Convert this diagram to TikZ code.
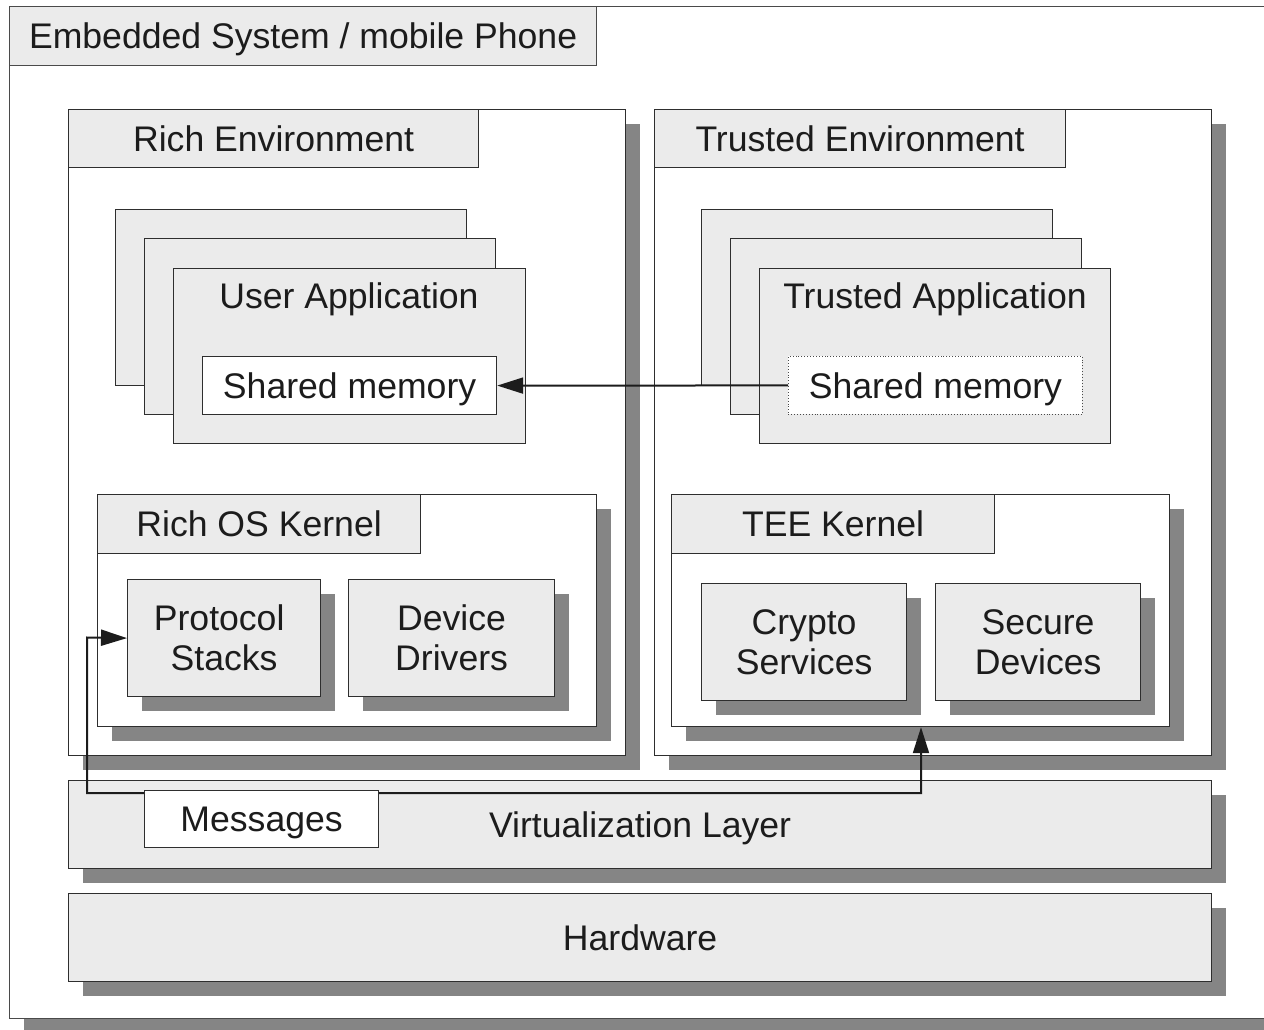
\documentclass[tikz,border=0pt]{standalone}
\usepackage{fontspec}
\setmainfont{Liberation Sans}
\usetikzlibrary{shadows,arrows.meta}

\definecolor{boxfill}{HTML}{EBEBEB}
\definecolor{shade}{HTML}{858585}
\definecolor{edge}{HTML}{2E2E2E}
\definecolor{frame}{HTML}{4A4A4A}
\definecolor{ink}{HTML}{1C1C1C}

\tikzset{
  blk/.style={draw=edge, line width=1.2pt, fill=boxfill, inner sep=0pt,
    anchor=north west, text=ink, font=\fontsize{35.6}{40}\selectfont, align=center},
  whiteblk/.style={blk, fill=white},
  shd/.style={drop shadow={shadow xshift=14pt, shadow yshift=-14pt,
    fill=shade, opacity=1, draw=none}},
  oneline/.style={text height=32pt, text depth=6.5pt},
  caption/.style={inner sep=0pt, text=ink, font=\fontsize{35.6}{40}\selectfont,
    text height=32pt, text depth=6.5pt},
  conn/.style={draw=ink, line width=2pt},
  tip/.tip={Triangle[length=26pt, width=16pt]},
  sz/.style 2 args={minimum width=#1pt, minimum height=#2pt}
}

\begin{document}
\begin{tikzpicture}[x=1pt, y=-1pt]
\useasboundingbox (0,0) rectangle (1264,1030);
\clip (0,0) rectangle (1264,1030);

% whole system frame
\node[whiteblk, shd, draw=frame, sz={1300}{1012}] (sys) at (9,6) {};
\node[blk, oneline, draw=frame, sz={587}{59}] (systitle) at (9,6) {Embedded System / mobile Phone};

% the two execution environments
\node[whiteblk, shd, sz={557}{646}] (rich) at (68,109) {};
\node[blk, oneline, sz={410}{58}] (richtitle) at (68,109) {Rich Environment};
\node[whiteblk, shd, sz={557}{646}] (trusted) at (654,109) {};
\node[blk, oneline, sz={411}{58}] (trustedtitle) at (654,109) {Trusted Environment};

% stacked user applications
\node[blk, sz={351}{176}] (ua3) at (115,209) {};
\node[blk, sz={351}{176}] (ua2) at (144,238) {};
\node[blk, sz={352}{175}] (ua1) at (173,268) {};
\node[caption] (ualabel) at (349,296) {User Application};
\node[whiteblk, oneline, sz={294}{58}] (usm) at (202,356) {Shared memory};

% stacked trusted applications
\node[blk, sz={351}{176}] (ta3) at (701,209) {};
\node[blk, sz={351}{176}] (ta2) at (730,238) {};
\node[blk, sz={351}{175}] (ta1) at (759,268) {};
\node[caption] (talabel) at (935,296) {Trusted Application};
\node[whiteblk, oneline, draw=frame, line width=0.9pt, dotted, sz={294}{58}] (tsm) at (788,356) {Shared memory};

% rich OS kernel
\node[whiteblk, shd, sz={499}{232}] (richk) at (97,494) {};
\node[blk, oneline, sz={323}{59}] (richktitle) at (97,494) {Rich OS Kernel};
\node[blk, shd, sz={193}{117}] (ps) at (127,579) {Protocol\hphantom{\ }\\Stacks};
\node[blk, shd, sz={206}{117}] (dd) at (348,579) {Device\\Drivers};

% TEE kernel
\node[whiteblk, shd, sz={498}{232}] (teek) at (671,494) {};
\node[blk, oneline, sz={323}{59}] (teektitle) at (671,494) {TEE Kernel};
\node[blk, shd, sz={205}{117}] (cs) at (701,583) {Crypto\\Services};
\node[blk, shd, sz={205}{117}] (sd) at (935,583) {Secure\\Devices};

% lower layers
\node[blk, oneline, shd, sz={1143}{88}] (virt) at (68,780) {Virtualization Layer};
\node[blk, oneline, shd, sz={1143}{88}] (hw) at (68,893) {Hardware};

% shared memory mapping
\draw[conn, -tip] (tsm.west) -- (usm.east);

% message path through the virtualization layer
\coordinate (bendA) at (87,637.5);
\coordinate (bendB) at (87,793);
\coordinate (bendC) at (921,793);
\draw[conn, tip-tip] (ps.west) -- (bendA) -- (bendB) -- (bendC) -- (bendC |- teek.south);

\node[whiteblk, oneline, sz={234}{57}] (msg) at (144,790) {Messages};
\end{tikzpicture}
\end{document}
